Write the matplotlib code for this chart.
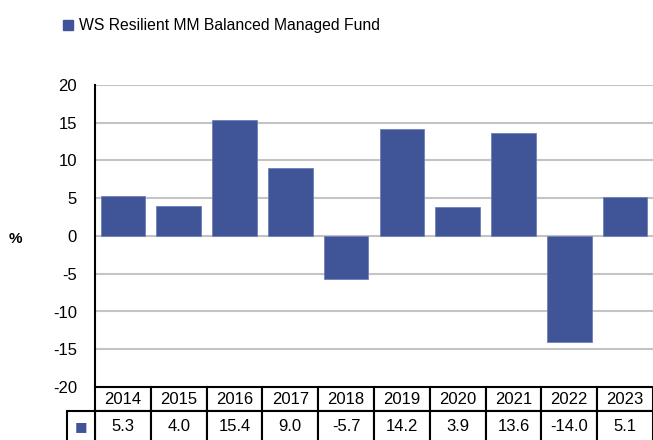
import matplotlib.pyplot as plt
import matplotlib.transforms as mtransforms
from matplotlib.patches import Patch, Rectangle

years = ['2014', '2015', '2016', '2017', '2018', '2019', '2020', '2021', '2022', '2023']
returns = [5.3, 4.0, 15.4, 9.0, -5.7, 14.2, 3.9, 13.6, -14.0, 5.1]
fund_name = 'WS Resilient MM Balanced Managed Fund'
bar_color = '#3f5597'

plt.rcParams['font.family'] = ['Liberation Sans', 'DejaVu Sans']
plt.rcParams['axes.unicode_minus'] = False

fig = plt.figure(figsize=(6.53, 4.40), dpi=100)
ax_w, ax_h = 653 - 95, 387 - 85
ax = fig.add_axes([95 / 653, 1 - 387 / 440, ax_w / 653, ax_h / 440])

x = range(len(years))
ax.bar(x, returns, width=0.8, color=bar_color, edgecolor='#7080b8', linewidth=0.6, zorder=3)

ax.set_xlim(-0.5, len(years) - 0.5)
ax.set_ylim(-20, 20)
ax.set_yticks(range(-20, 21, 5))
ax.tick_params(axis='y', length=0, labelsize=12, pad=13)
ax.set_xticks([])
for y in range(-15, 21, 5):
    ax.axhline(y, color='#c4c4c4', linewidth=1.5, zorder=1)

for side in ['top', 'right', 'bottom']:
    ax.spines[side].set_visible(False)
ax.spines['left'].set_linewidth(1.5)
ax.set_ylabel('%', rotation=0, fontsize=11, fontweight='bold', va='center', ha='center')
ax.yaxis.set_label_coords(-(95 - 15) / ax_w, 0.49)

# data table under the chart: x in data units, y in axes fraction
trans = mtransforms.blended_transform_factory(ax.transData, ax.transAxes)
row1 = 24 / ax_h
row2 = 31 / ax_h
label_w = 28 / ax_w * len(years)

def cell(x0, y0, w, h, text, **kw):
    ax.add_patch(Rectangle((x0, y0), w, h, transform=trans, clip_on=False,
                           facecolor='white', edgecolor='black', linewidth=1.5))
    ax.text(x0 + w / 2, y0 + h / 2, text, transform=trans, ha='center', va='center',
            clip_on=False, **kw)

for i, (yr, v) in enumerate(zip(years, returns)):
    cell(i - 0.5, -row1, 1, row1, yr, fontsize=12)
    cell(i - 0.5, -row1 - row2, 1, row2, f'{v:.1f}', fontsize=12)

cell(-0.5 - label_w, -row1 - row2, label_w, row2, '■', fontsize=9.5, color=bar_color,
     family='DejaVu Sans')

fig.legend(handles=[Patch(color=bar_color, label=fund_name)], loc='upper left',
           bbox_to_anchor=(57 / 653, 1 - 12 / 440), frameon=False, fontsize=11.3,
           handlelength=0.6, handleheight=0.6, handletextpad=0.4, borderaxespad=0)

fig.savefig('out.png', dpi=100)
